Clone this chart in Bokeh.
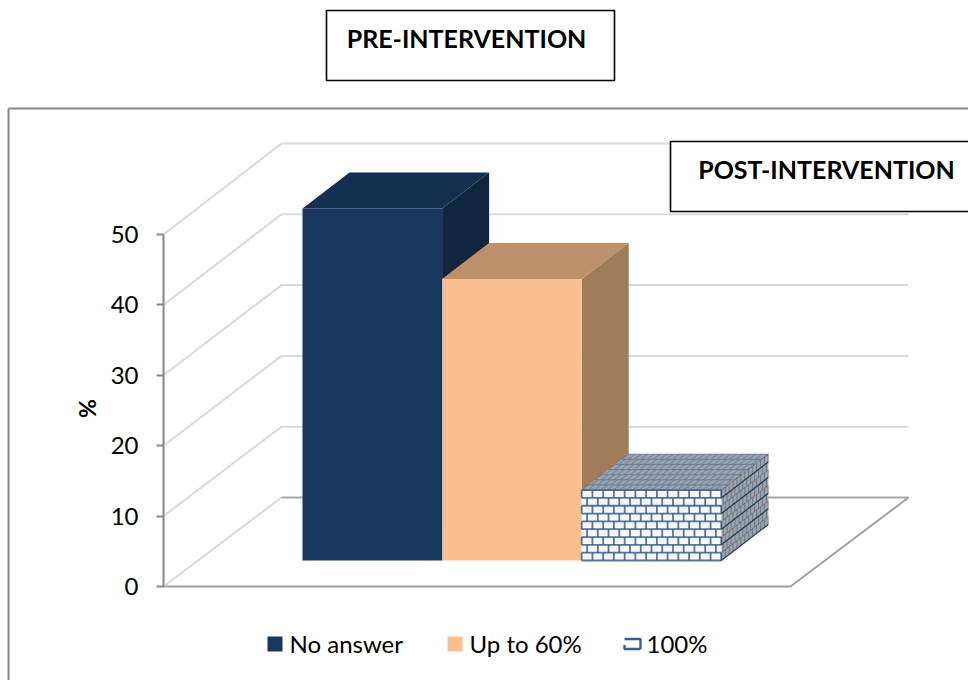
from bokeh.embed import file_html
from bokeh.models import FixedTicker, Range1d
from bokeh.plotting import figure
from bokeh.resources import INLINE
from bokeh.core.properties import value

# Chart values
categories = ["No answer", "Up to 60%", "100%"]
percentages = [50, 40, 10]
y_ticks = [0, 10, 20, 30, 40, 50]
axis_title = "%"
box_titles = ["PRE-INTERVENTION", "POST-INTERVENTION"]

# Canvas geometry, in screen pixels, and the vertical scale of the value axis
WIDTH, HEIGHT = 968, 680
PX_PER_UNIT = 7.04
ZERO_PX = 586
FONT = "Lato"


def vy(px):
    """Screen row to value-axis units."""
    return (ZERO_PX - px) / PX_PER_UNIT


p = figure(width=WIDTH, height=HEIGHT, output_backend="svg", toolbar_location=None,
           x_range=Range1d(0, WIDTH), y_range=Range1d(vy(HEIGHT), vy(0)),
           min_border=0, outline_line_color=None, tools="")
p.grid.visible = False

# Chart frame
p.multi_line([[8, 8], [8, 968]], [[vy(680), vy(108)], [vy(108), vy(108)]],
             line_color="#868686", line_width=2)

# Walls of the 3D box: one bent gridline per tick, then the floor edge
WALL_DX, WALL_DY = 118, 89 / PX_PER_UNIT
WALL_RIGHT = 908
WALL_STRETCH = 354 / 352
for t in y_ticks:
    back = t * WALL_STRETCH
    xs = [163, 163 + WALL_DX] if t == 0 else [163, 163 + WALL_DX, WALL_RIGHT]
    ys = [t, back + WALL_DY] if t == 0 else [t, back + WALL_DY, back + WALL_DY]
    p.line(xs, ys, line_color="#d9d9d9", line_width=2)
p.line([281, WALL_RIGHT], [WALL_DY, WALL_DY], line_color="#a6a6a6", line_width=2)
p.line([163, 790, WALL_RIGHT], [0, 0, WALL_DY], line_color="#a0a0a0", line_width=2)

# Bars: front, top and side faces
BAR_LEFT, BAR_W = 302, 139.6
DEPTH_X, DEPTH_Y = 47, 36 / PX_PER_UNIT
LIFT = vy(560)
FRONT = ["#17375e", "#fac090", "#f4f6f9"]
TOP = ["#142f50", "#bd906c", "#9aa2ad"]
SIDE = ["#10253f", "#a07c5a", "#9ea3aa"]
MORTAR = "#3a5f8a"


def brick_lines(origin, u, v, courses, bricks):
    """Mortar lines of a brick pattern on the parallelogram origin + s*u + t*v."""
    xs, ys = [], []
    for c in range(courses + 1):
        t = c / courses
        xs.append([origin[0] + v[0] * t, origin[0] + v[0] * t + u[0]])
        ys.append([origin[1] + v[1] * t, origin[1] + v[1] * t + u[1]])
    for c in range(courses):
        t0, t1 = c / courses, (c + 1) / courses
        shift = 0 if c % 2 == 0 else 0.5
        for b in range(bricks + 1):
            s = (b + shift) / bricks
            if s > 1:
                continue
            xs.append([origin[0] + u[0] * s + v[0] * t0, origin[0] + u[0] * s + v[0] * t1])
            ys.append([origin[1] + u[1] * s + v[1] * t0, origin[1] + u[1] * s + v[1] * t1])
    return xs, ys


for i, val in enumerate(percentages):
    x0 = BAR_LEFT + i * BAR_W
    x1 = x0 + BAR_W
    y0, y1 = LIFT, LIFT + val
    p.patch([x0, x1, x1 + DEPTH_X, x0 + DEPTH_X],
            [y1, y1, y1 + DEPTH_Y, y1 + DEPTH_Y], fill_color=TOP[i], line_color=None)
    p.patch([x1, x1 + DEPTH_X, x1 + DEPTH_X, x1],
            [y0, y0 + DEPTH_Y, y1 + DEPTH_Y, y1], fill_color=SIDE[i], line_color=None)
    p.patch([x0, x1, x1, x0], [y0, y0, y1, y1], fill_color=FRONT[i], line_color=None)

    if categories[i] == "100%":
        fx, fy = brick_lines((x0, y0), (BAR_W, 0), (0, val), 9, 13)
        p.multi_line(fx, fy, line_color=MORTAR, line_width=1.8, line_alpha=0.85)
        tx, ty = brick_lines((x0, y1), (BAR_W, 0), (DEPTH_X, DEPTH_Y), 7, 22)
        p.multi_line(tx, ty, line_color=MORTAR, line_width=0.8, line_alpha=0.6)
        sx, sy = brick_lines((x1, y0), (DEPTH_X, DEPTH_Y), (0, val), 9, 12)
        p.multi_line(sx, sy, line_color="#1f3a5c", line_width=0.7, line_alpha=0.55)
        p.multi_line(sx[:10:2], sy[:10:2], line_color="#1f3a5c", line_width=1.3, line_alpha=0.9)

# Value axis
yaxis = p.yaxis[0]
yaxis.fixed_location = 163
yaxis.bounds = (0, 50)
yaxis.ticker = FixedTicker(ticks=y_ticks)
yaxis.axis_line_color = "#868686"
yaxis.axis_line_width = 2
yaxis.major_tick_line_color = "#868686"
yaxis.major_tick_line_width = 2
yaxis.major_tick_out = 7
yaxis.major_tick_in = 0
yaxis.minor_tick_line_color = None
yaxis.major_label_text_font = FONT
yaxis.major_label_text_font_size = "24px"
yaxis.major_label_text_color = "#000000"
yaxis.major_label_standoff = 18

p.xaxis[0].visible = False

# Axis title
p.text([86], [vy(408)], text=[axis_title], angle=1.5708, text_align="center",
       text_baseline="middle", text_font=value(FONT), text_font_style="bold",
       text_font_size="23px", text_color="#000000")

# Caption boxes
BOXES = [(326, 614, 10, 80, 466, 37.5), (670, 975, 141, 211, 826, 168.5)]
for (bx0, bx1, by0, by1, tx, ty), title in zip(BOXES, box_titles):
    p.patch([bx0, bx1, bx1, bx0], [vy(by0), vy(by0), vy(by1), vy(by1)],
            fill_color="#ffffff", line_color="#000000", line_width=1.6)
    p.text([tx], [vy(ty)], text=[title], text_align="center", text_baseline="middle",
           text_font=value(FONT), text_font_style="bold", text_font_size="25px",
           text_color="#000000")

# Legend
LEGEND_X = [267, 447, 624]
LEGEND_Y = 643.5
SW = 15
for i, name in enumerate(categories):
    lx = LEGEND_X[i]
    if name == "100%":
        p.multi_line([[lx, lx + SW + 1, lx + SW + 1], [lx + SW + 1, lx, lx]],
                     [[vy(LEGEND_Y - 5)] * 2 + [vy(LEGEND_Y + 5)],
                      [vy(LEGEND_Y + 5)] * 2 + [vy(LEGEND_Y + 1)]],
                     line_color=MORTAR, line_width=2.4)
    else:
        p.patch([lx, lx + SW, lx + SW, lx],
                [vy(LEGEND_Y - SW / 2), vy(LEGEND_Y - SW / 2), vy(LEGEND_Y + SW / 2), vy(LEGEND_Y + SW / 2)],
                fill_color=FRONT[i], line_color=None)
    p.text([lx + SW + 7], [vy(LEGEND_Y - 1)], text=[name], text_align="left", text_baseline="middle",
           text_font=value(FONT), text_font_size="24px", text_color="#000000")

open("out.html", "w").write(file_html(p, INLINE))
